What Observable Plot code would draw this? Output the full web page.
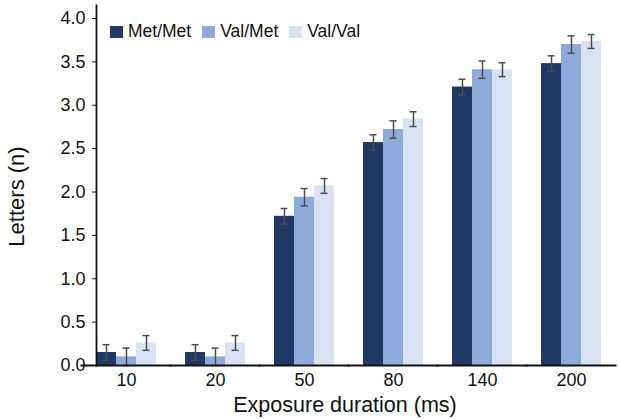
<!DOCTYPE html>
<html>
<head>
<meta charset="utf-8">
<script src="https://cdn.jsdelivr.net/npm/d3@7"></script>
<script src="https://cdn.jsdelivr.net/npm/@observablehq/plot@0.6"></script>
<style>
  html, body { margin: 0; padding: 0; background: #fff; }
  #wrap { position: relative; width: 619px; height: 419px; font-family: "Liberation Sans", Arial, Helvetica, sans-serif; }
  #legend { position: absolute; left: 110px; top: 15px; }
  #legend div { font-family: "Liberation Sans", Arial, Helvetica, sans-serif !important; font-size: 17.5px !important; font-weight: normal !important; color: #111; margin: 0 !important; }
  #legend span { margin-right: 11px !important; font-weight: normal !important; }
  #legend svg { margin-right: 5px !important; }
</style>
</head>
<body>
<div id="wrap"><div id="legend"></div></div>
<script>
const durations = ["10", "20", "50", "80", "140", "200"];
const genotypes = ["Met/Met", "Val/Met", "Val/Val"];
const colors = ["#1f3864", "#8eaadb", "#d9e2f3"];
const metMet = [0.15, 0.15, 1.72, 2.57, 3.21, 3.48];
const valMet = [0.10, 0.10, 1.94, 2.72, 3.41, 3.70];
const valVal = [0.26, 0.26, 2.07, 2.84, 3.41, 3.735];
const errMetMet = [0.09, 0.09, 0.09, 0.09, 0.09, 0.09];
const errValMet = [0.10, 0.10, 0.10, 0.10, 0.10, 0.10];
const errValVal = [0.085, 0.085, 0.085, 0.085, 0.08, 0.08];
const yTicks = [0, 0.5, 1, 1.5, 2, 2.5, 3, 3.5, 4];

const series = [metMet, valMet, valVal];
const errs = [errMetMet, errValMet, errValVal];
const rows = [];
durations.forEach((d, i) => genotypes.forEach((g, j) => {
  rows.push({duration: d, genotype: g, value: series[j][i], lo: series[j][i] - errs[j][i], hi: series[j][i] + errs[j][i]});
}));

const font = "Liberation Sans, Arial, Helvetica, sans-serif";
const chart = Plot.plot({
  width: 619,
  height: 419,
  marginLeft: 80,
  marginRight: 2,
  marginTop: 5,
  marginBottom: 54,
  style: {fontFamily: font, fontSize: "18px", color: "#111", background: "transparent"},
  fx: {domain: durations, paddingInner: 0.33, paddingOuter: 0.17, label: null, tickSize: 0, tickPadding: 8},
  x: {domain: genotypes, padding: 0, axis: null},
  y: {domain: [0, 4.15], ticks: yTicks, tickFormat: d3.format(".1f"), tickSize: 4, tickPadding: 7, label: null},
  color: {domain: genotypes, range: colors},
  marks: [
    Plot.barY(rows, {fx: "duration", x: "genotype", y: "value", fill: "genotype"}),
    Plot.ruleX(rows, {fx: "duration", x: "genotype", y1: "lo", y2: "hi", stroke: "#4d4d4d", strokeWidth: 1.5}),
    Plot.tickY(rows, {fx: "duration", x: "genotype", y: "lo", stroke: "#4d4d4d", strokeWidth: 1.5, insetLeft: 6.5, insetRight: 6.5}),
    Plot.tickY(rows, {fx: "duration", x: "genotype", y: "hi", stroke: "#4d4d4d", strokeWidth: 1.5, insetLeft: 6.5, insetRight: 6.5}),
    Plot.ruleY([0], {stroke: "#111", strokeWidth: 1.8, insetLeft: -15.5, insetRight: -15.5}),
    Plot.frame({facet: "super", anchor: "left", stroke: "#111", strokeWidth: 1.8}),
    Plot.text(["Letters (n)"], {facet: "super", frameAnchor: "left", textAnchor: "middle", lineAnchor: "middle", rotate: -90, dx: -80, dy: 11, fontSize: 22, fill: "#111"}),
    Plot.text(["Exposure duration (ms)"], {facet: "super", frameAnchor: "bottom", textAnchor: "middle", lineAnchor: "middle", dx: -4, dy: 40, fontSize: 21.5, fill: "#111"})
  ]
});
document.getElementById("wrap").prepend(chart);

const legend = Plot.legend({color: {domain: genotypes, range: colors}, swatchWidth: 13, swatchHeight: 12});
document.getElementById("legend").appendChild(legend);
</script>
</body>
</html>
